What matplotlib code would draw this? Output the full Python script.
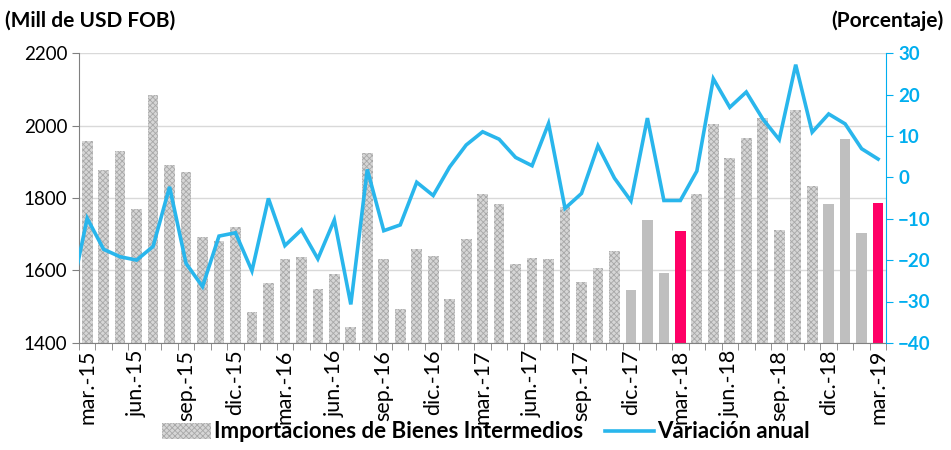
import matplotlib.pyplot as plt
import matplotlib as mpl
import numpy as np

plt.rcParams['font.family'] = ['Lato', 'DejaVu Sans']
mpl.rcParams['hatch.linewidth'] = 0.6

# Importaciones de bienes intermedios (Mill de USD FOB), mar-15 .. mar-19
imports = [1957, 1876, 1931, 1771, 2084, 1890, 1872, 1692, 1680, 1720,
           1485, 1566, 1632, 1637, 1549, 1590, 1444, 1924, 1631, 1494,
           1660, 1641, 1521, 1686, 1810, 1783, 1618, 1633, 1631, 1776,
           1567, 1607, 1654, 1546, 1739, 1593, 1709, 1812, 2004, 1910,
           1965, 2020, 1712, 2042, 1833, 1784, 1964, 1704, 1787]

# Variacion anual (%), feb-15 .. mar-19 (first point falls outside the axis)
variation = [-29, -9.9, -17.4, -19.2, -20.0, -16.7, -2.3, -20.8, -26.4, -14.2,
             -13.4, -22.6, -5.1, -16.5, -12.7, -19.7, -10.3, -30.7, 1.9, -12.9,
             -11.5, -1.2, -4.4, 2.5, 7.8, 11.0, 9.2, 4.8, 2.8, 13.0,
             -7.5, -3.9, 7.6, -0.2, -5.7, 14.3, -5.6, -5.6, 1.5, 23.8,
             16.9, 20.6, 14.1, 9.1, 27.2, 10.9, 15.3, 12.9, 6.9, 4.4]

months = ['mar.', 'abr.', 'may.', 'jun.', 'jul.', 'ago.', 'sep.', 'oct.', 'nov.', 'dic.', 'ene.', 'feb.']
labels = []
for i in range(len(imports)):
    yr = 15 + (i + 2) // 12
    labels.append(months[i % 12] + '-' + str(yr))

# bar styles: hatched / solid gray / highlighted
solid_idx = [33, 34, 35, 45, 46, 47]
pink_idx = [36, 48]

blue = '#29B6EC'
blue_txt = '#00AEEF'

fig = plt.figure(figsize=(9.51, 4.5), dpi=100)
ax = fig.add_axes([0.083, 0.238, 0.849, 0.644])
ax2 = ax.twinx()

x = np.arange(len(imports))
for i in x:
    if i in pink_idx:
        ax.bar(i, imports[i] - 1400, bottom=1400, width=0.65, color='#FF0066', zorder=2)
    elif i in solid_idx:
        ax.bar(i, imports[i] - 1400, bottom=1400, width=0.65, color='#BFBFBF', zorder=2)
    else:
        ax.bar(i, imports[i] - 1400, bottom=1400, width=0.65, color='#D6D6D6',
               hatch='xxxxxx', edgecolor='#A8A8A8', linewidth=0, zorder=2)

xl = np.arange(-1, len(imports))
ax2.plot(xl, variation, color=blue, lw=2.6, zorder=3, solid_joinstyle='miter')

ax.set_xlim(-0.5, len(imports) - 0.5)
ax.set_ylim(1400, 2200)
ax.set_yticks([1400, 1600, 1800, 2000, 2200])
ax.yaxis.grid(True, color='#D9D9D9', lw=1)
ax.set_axisbelow(True)
ax2.set_ylim(-40, 30)
ax2.set_yticks(np.arange(-40, 31, 10))

ax.set_xticks(x[::3])
ax.set_xticklabels(labels[::3], rotation=90, fontsize=15.5)
ax.set_xticks(np.arange(-0.5, len(imports)), minor=True)
ax.tick_params(axis='x', which='major', length=0, pad=5)
ax.tick_params(axis='x', which='minor', length=5, color='#808080')
ax.tick_params(axis='y', labelsize=13.5, length=5, color='#808080')
ax2.tick_params(axis='y', labelsize=13.5, length=5, color=blue_txt, labelcolor=blue_txt)
for t in ax2.get_yticklabels():
    t.set_fontweight('bold')

for a in (ax, ax2):
    a.spines['top'].set_visible(False)
ax.spines['left'].set_color('#808080')
ax.spines['bottom'].set_color('#808080')
ax.spines['right'].set_visible(False)
ax2.spines['left'].set_visible(False)
ax2.spines['bottom'].set_visible(False)
ax2.spines['right'].set_color(blue_txt)

fig.text(0.005, 0.955, '(Mill de USD FOB)', fontsize=15, fontweight='bold', va='center')
fig.text(0.992, 0.955, '(Porcentaje)', fontsize=15, fontweight='bold', va='center', ha='right')

from matplotlib.patches import Patch
from matplotlib.lines import Line2D
handles = [Patch(facecolor='#D6D6D6', hatch='xxxxxx', edgecolor='#A8A8A8', linewidth=0),
           Line2D([], [], color=blue, lw=2.6)]
fig.legend(handles, ['Importaciones de Bienes Intermedios', 'Variación anual'],
           loc='center', bbox_to_anchor=(0.511, 0.04), ncol=2, frameon=False,
           prop={'size': 16, 'weight': 'bold'}, handlelength=2.2, handletextpad=0.15,
           columnspacing=1.0, borderpad=0)

fig.savefig('out.png', dpi=100)
